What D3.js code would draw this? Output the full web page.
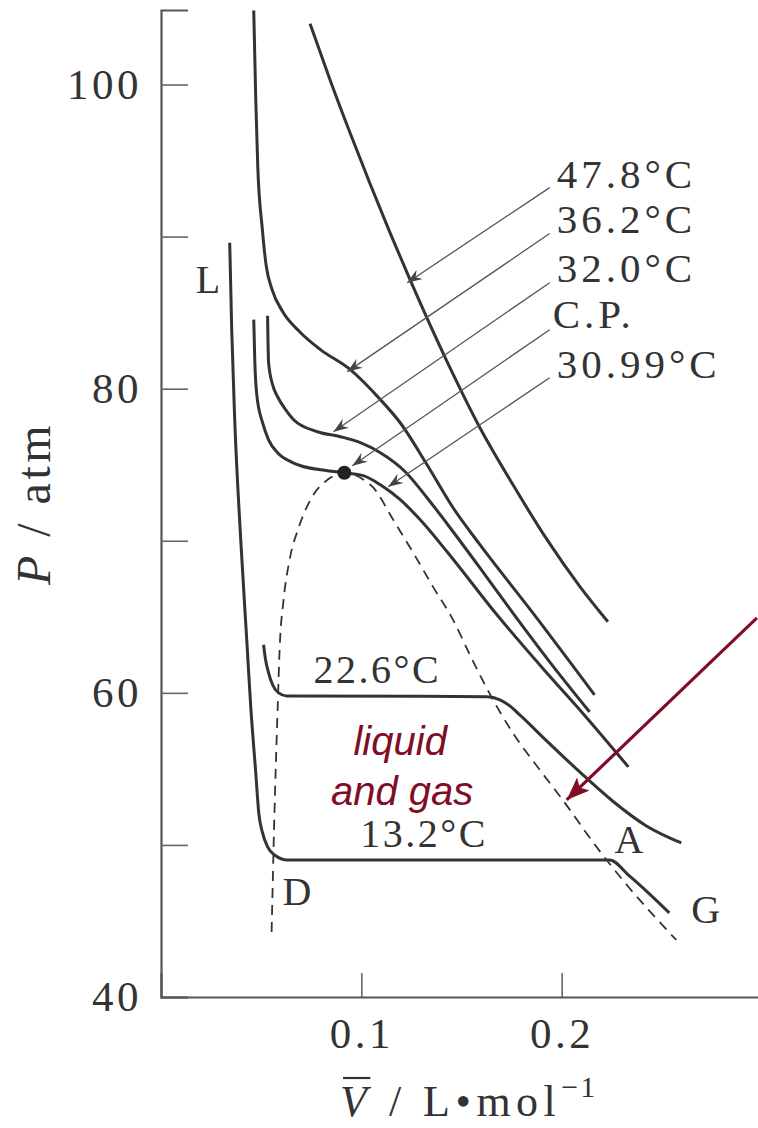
<!DOCTYPE html>
<html>
<head>
<meta charset="utf-8">
<script src="https://cdn.jsdelivr.net/npm/d3@7"></script>
<style>
  html, body { margin: 0; padding: 0; background: #fff; }
  svg { display: block; }
</style>
</head>
<body>
<script>
const width = 758, height = 1128
const ink = '#333', axisInk = '#555', wine = '#800d26'
const serif = '"Liberation Serif", "Times New Roman", serif'
const sans = '"Liberation Sans", Arial, sans-serif'

// isotherms of CO2, [molar volume L/mol, pressure atm]
const iso_47_8 = [[0.0744,104.0],[0.0844,100.3],[0.0943,96.84],[0.1043,93.49],[0.1143,90.26],[0.1243,87.17],
  [0.1428,81.78],[0.1592,77.43],[0.1757,73.68],[0.1927,70.07],[0.2092,66.97],[0.2231,64.67]]
const iso_36_2 = [[0.0463,104.87],[0.0473,99.01],[0.0483,94.61],[0.0505,90.6],[0.0525,88.1],[0.0555,86.5],[0.0607,85.07],
  [0.0697,83.68],[0.0796,82.57],[0.0945,81.25],[0.1095,79.28],[0.1194,77.76],[0.1328,75.0],[0.1458,72.17],
  [0.1592,69.74],[0.1856,65.26],[0.2164,59.87]]
const iso_32_0 = [[0.0532,84.8],[0.0537,81.71],[0.0557,80.26],[0.0582,79.47],[0.0622,78.62],[0.0662,77.96],
  [0.0781,77.17],[0.0896,76.84],[0.0995,76.45],[0.1095,75.79],[0.1219,74.54],[0.1328,72.83],[0.1428,71.12],
  [0.1592,68.22],[0.1756,65.26],[0.194,62.04],[0.2139,58.75]]
const iso_30_99 = [[0.0463,84.54],[0.0468,81.91],[0.0478,79.61],[0.0507,77.76],[0.0537,76.64],[0.0582,75.79],
  [0.0647,75.2],[0.0697,74.93],[0.0831,74.61],[0.0915,74.47],[0.101,74.28],[0.1095,73.68],[0.1194,72.7],
  [0.1294,71.38],[0.1428,69.28],[0.1677,65.13],[0.1925,61.32],[0.2104,58.68],[0.2333,55.13]]
const iso_22_6 = [[0.0512,63.16],[0.0522,62.17],[0.0537,61.32],[0.0557,60.53],[0.0587,60.0],[0.0627,59.8],
  [0.1627,59.75],[0.1692,59.54],[0.1741,59.14],[0.1791,58.55],[0.1925,56.84],[0.209,54.8],[0.2254,52.89],
  [0.2423,51.25],[0.2597,50.13]]
const iso_13_2 = [[0.0343,89.6],[0.0353,83.88],[0.0368,77.96],[0.0398,70.07],[0.0428,63.49],[0.0448,59.08],
  [0.0473,54.74],[0.0488,52.11],[0.0507,50.79],[0.0532,49.87],[0.0567,49.34],[0.0632,49.01],[0.2239,49.01],
  [0.2338,47.96],[0.2438,46.78],[0.2537,45.53]]
// liquid-gas coexistence boundary (dashed)
const coexistence = [[0.0552,44.28],[0.0557,47.04],[0.0562,49.87],[0.0572,54.74],[0.0582,58.88],[0.0592,62.83],
  [0.0612,66.12],[0.0642,68.75],[0.0687,70.86],[0.0746,72.7],[0.0831,74.01],[0.0915,74.47],[0.0995,74.14],
  [0.106,73.49],[0.1159,71.38],[0.1259,69.21],[0.1358,66.97],[0.1458,64.8],[0.1542,62.5],[0.1617,60.53],
  [0.1756,57.37],[0.1891,54.93],[0.2005,52.96],[0.2174,49.87],[0.2338,47.17],[0.2572,43.75]]
const critical_point = [0.0915, 74.47]

const isotherms = [iso_47_8, iso_36_2, iso_32_0, iso_30_99, iso_22_6, iso_13_2]

// leader labels on the right: text, label anchor [V,P], arrow start, arrow tip
const leader_names = ['47.8°C', '36.2°C', '32.0°C', 'C.P.', '30.99°C']
const leader_text_at = [[0.1975,93.22],[0.1975,90.26],[0.1975,87.04],[0.1955,84.01],[0.1975,80.72]]
const leader_from = [[0.194,93.22],[0.194,90.2],[0.194,86.97],[0.194,83.88],[0.194,80.72]]
const leader_to = [[0.1229,86.97],[0.093,81.12],[0.0861,77.17],[0.0955,74.93],[0.1134,73.55]]

// plain labels in the plot
const point_names = ['L', 'D', 'A', 'G', '22.6°C', '13.2°C']
const point_at = [[0.0174,86.32],[0.0607,46.05],[0.2264,49.47],[0.2647,44.87],[0.0761,60.66],[0.0995,49.87]]

const region_lines = ['liquid', 'and gas']
const region_at = [[0.1194,55.92],[0.1204,52.63]]
const red_arrow = [[0.2975,64.93],[0.2025,52.96]]

const y_ticks = [40, 50, 60, 70, 80, 90, 100]
const x_ticks = [0.1, 0.2]

const x = d3.scaleLinear([0, 0.3], [161, 762])
const y = d3.scaleLinear([40, 104.9], [997, 10])

const svg = d3.select('body').append('svg')
  .attr('width', width).attr('height', height)

const defs = svg.append('defs')
defs.append('marker').attr('id', 'thin-head')
  .attr('viewBox', '-16 -6 17 12').attr('refX', 0).attr('refY', 0)
  .attr('markerUnits', 'userSpaceOnUse').attr('markerWidth', 17).attr('markerHeight', 12)
  .attr('orient', 'auto')
  .append('path').attr('d', 'M-15,-5.5 L0,0 L-15,5.5 L-10,0 Z').attr('fill', '#444')
defs.append('marker').attr('id', 'red-head')
  .attr('viewBox', '-24 -10 25 20').attr('refX', 0).attr('refY', 0)
  .attr('markerUnits', 'userSpaceOnUse').attr('markerWidth', 25).attr('markerHeight', 20)
  .attr('orient', 'auto')
  .append('path').attr('d', 'M-23,-9 L0,0 L-23,9 L-18,0 Z').attr('fill', wine)

// axes
const yAxis = d3.axisLeft(y)
  .tickValues(y_ticks)
  .tickSize(-27)
  .tickPadding(19)
  .tickFormat(d => d % 20 === 0 ? d : '')

const xAxis = d3.axisBottom(x)
  .tickValues(x_ticks)
  .tickSize(-24)
  .tickPadding(20)
  .tickFormat(d3.format('.1f'))

const styleAxis = g => {
  g.attr('font-family', serif).attr('font-size', 43)
  g.select('.domain').attr('stroke', axisInk).attr('stroke-width', 2.2)
  g.selectAll('.tick line').attr('stroke', '#666').attr('stroke-width', 1.6)
  g.selectAll('.tick text').attr('fill', ink).attr('letter-spacing', 3.5)
}

svg.append('g').attr('transform', `translate(${x(0)},0)`).call(yAxis).call(styleAxis)
svg.append('g').attr('transform', `translate(0,${y(40)})`).call(xAxis).call(styleAxis)

// axis titles
const yTitle = svg.append('text')
  .attr('transform', `translate(50,${(y(40) + y(104.9)) / 2}) rotate(-90)`)
  .attr('text-anchor', 'middle')
  .attr('font-family', serif).attr('font-size', 48).attr('letter-spacing', 3.5)
  .attr('fill', ink)
yTitle.append('tspan').attr('font-style', 'italic').text('P')
yTitle.append('tspan').text(' / atm')

const xTitle = svg.append('text')
  .attr('x', 340).attr('y', 1116)
  .attr('font-family', serif).attr('font-size', 44).attr('letter-spacing', 5.5)
  .attr('fill', ink)
xTitle.append('tspan').attr('font-style', 'italic').text('V')
xTitle.append('tspan').text(' / L•mol')
xTitle.append('tspan').attr('font-size', 30).attr('dy', -19).attr('letter-spacing', 2).text('−1')
const vBox = xTitle.node().getExtentOfChar(0)
svg.append('line')
  .attr('x1', vBox.x + 3).attr('x2', vBox.x + vBox.width - 2)
  .attr('y1', vBox.y + 1).attr('y2', vBox.y + 1)
  .attr('stroke', ink).attr('stroke-width', 2.2)

// curves
const line = d3.line()
  .x(d => x(d[0]))
  .y(d => y(d[1]))
  .curve(d3.curveMonotoneX)

svg.append('path')
  .datum(coexistence)
  .attr('d', line)
  .attr('fill', 'none')
  .attr('stroke', ink)
  .attr('stroke-width', 1.8)
  .attr('stroke-dasharray', '10,7')

svg.append('g')
  .selectAll('path')
  .data(isotherms)
  .join('path')
  .attr('d', line)
  .attr('fill', 'none')
  .attr('stroke', ink)
  .attr('stroke-width', 3)

svg.append('circle')
  .attr('cx', x(critical_point[0])).attr('cy', y(critical_point[1]))
  .attr('r', 7).attr('fill', '#222')

// leaders with labels
svg.append('g')
  .selectAll('line')
  .data(leader_names)
  .join('line')
  .attr('x1', (d, i) => x(leader_from[i][0])).attr('y1', (d, i) => y(leader_from[i][1]))
  .attr('x2', (d, i) => x(leader_to[i][0])).attr('y2', (d, i) => y(leader_to[i][1]))
  .attr('stroke', '#555').attr('stroke-width', 1.3)
  .attr('marker-end', 'url(#thin-head)')

svg.append('g')
  .attr('font-family', serif).attr('font-size', 41).attr('letter-spacing', 4).attr('fill', ink)
  .selectAll('text')
  .data(leader_names)
  .join('text')
  .attr('x', (d, i) => x(leader_text_at[i][0]))
  .attr('y', (d, i) => y(leader_text_at[i][1]))
  .text(d => d)

svg.append('g')
  .attr('font-family', serif).attr('font-size', 40).attr('letter-spacing', 2.5).attr('fill', ink)
  .selectAll('text')
  .data(point_names)
  .join('text')
  .attr('x', (d, i) => x(point_at[i][0]))
  .attr('y', (d, i) => y(point_at[i][1]))
  .text(d => d)

svg.append('g')
  .attr('font-family', sans).attr('font-size', 40).attr('font-style', 'italic')
  .attr('text-anchor', 'middle').attr('fill', wine)
  .selectAll('text')
  .data(region_lines)
  .join('text')
  .attr('x', (d, i) => x(region_at[i][0]))
  .attr('y', (d, i) => y(region_at[i][1]))
  .text(d => d)

svg.append('line')
  .attr('x1', x(red_arrow[0][0])).attr('y1', y(red_arrow[0][1]))
  .attr('x2', x(red_arrow[1][0])).attr('y2', y(red_arrow[1][1]))
  .attr('stroke', wine).attr('stroke-width', 3.2)
  .attr('marker-end', 'url(#red-head)')
</script>
</body>
</html>
